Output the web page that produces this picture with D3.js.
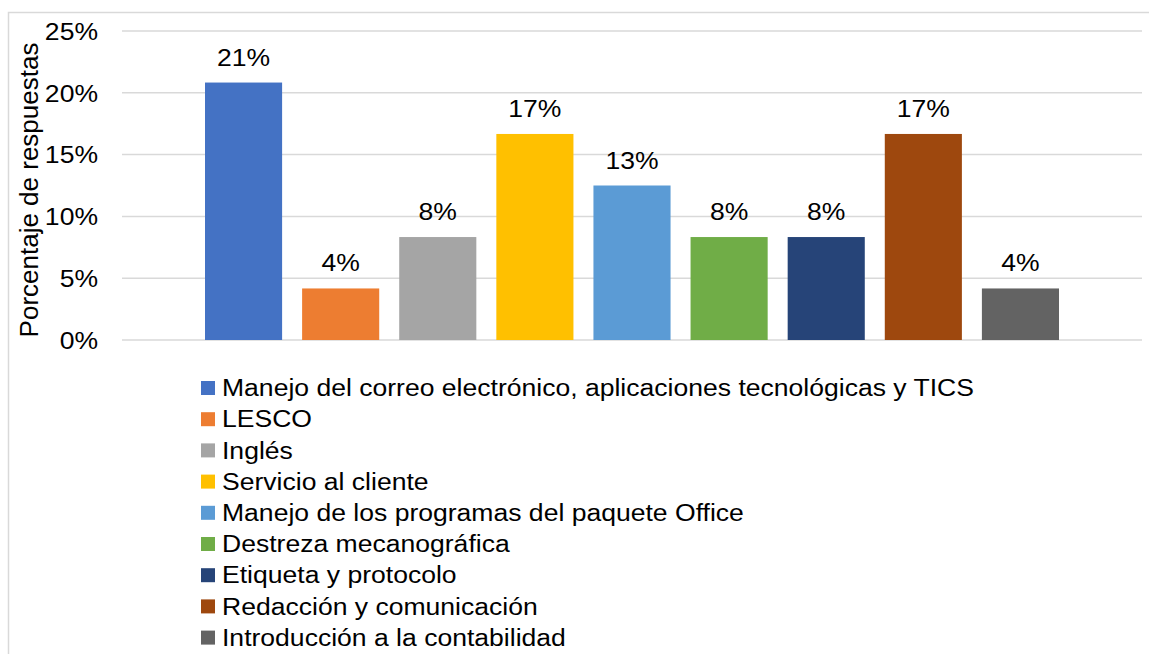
<!DOCTYPE html>
<html><head><meta charset="utf-8">
<script src="https://cdn.jsdelivr.net/npm/d3@7"></script>
<style>html,body{margin:0;padding:0;background:#fff;}svg{display:block;font-family:"Liberation Sans",Arial,sans-serif;}</style>
</head><body>
<svg id="c" width="1149" height="654"></svg>
<script>
const categories = ["Manejo del correo electrónico, aplicaciones tecnológicas y TICS","LESCO","Inglés","Servicio al cliente","Manejo de los programas del paquete Office","Destreza mecanográfica","Etiqueta y protocolo","Redacción y comunicación","Introducción a la contabilidad"];
const values = [0.2083, 0.0417, 0.0833, 0.1667, 0.125, 0.0833, 0.0833, 0.1667, 0.0417];
const labels = ["21%","4%","8%","17%","13%","8%","8%","17%","4%"];
const colors = ["#4472C4","#ED7D31","#A5A5A5","#FFC000","#5B9BD5","#70AD47","#264478","#9E480E","#636363"];
const yTicks = [0, 0.05, 0.10, 0.15, 0.20, 0.25];
const yTitle = "Porcentaje de respuestas";

(function(){
const FS = 23.5, SX = 1.13;
const svg = d3.select("#c");
// chart border
svg.append("path").attr("d","M8.5,654 L8.5,12.5 L1149,12.5").attr("fill","none").attr("stroke","#d9d9d9").attr("stroke-width",1.5);

const plotL = 122, plotR = 1142, plotT = 31, plotB = 340;
const y = d3.scaleLinear().domain([0,0.25]).range([plotB, plotT]);
const x = d3.scaleBand().domain(categories).range([plotL+83, plotR-83]).paddingInner(0.206).paddingOuter(0);

// gridlines
svg.append("g").selectAll("line").data(yTicks).join("line")
  .attr("x1",plotL).attr("x2",plotR).attr("y1",d=>y(d)).attr("y2",d=>y(d))
  .attr("stroke","#d9d9d9").attr("stroke-width",1.5);

// y axis labels
const yAxis = d3.axisLeft(y).tickValues(yTicks).tickFormat(d3.format(".0%")).tickSize(0).tickPadding(0);
const ga = svg.append("g").attr("transform","translate(98,0)").call(yAxis);
ga.select(".domain").remove();
ga.selectAll("text").attr("font-size",FS).attr("fill","#000").attr("font-family","Liberation Sans, Arial, sans-serif")
  .attr("x",0).attr("dy","0.35em").attr("transform",`scale(${SX},1)`);

// axis title
svg.append("text").attr("transform",`translate(38,190) rotate(-90)`)
  .attr("text-anchor","middle")
  .attr("font-size",26).attr("fill","#000").text(yTitle);

// bars
svg.append("g").selectAll("rect").data(categories).join("rect")
  .attr("x",d=>x(d)).attr("width",x.bandwidth())
  .attr("y",(d,i)=>y(values[i])).attr("height",(d,i)=>plotB-y(values[i]))
  .attr("fill",(d,i)=>colors[i]);

// value labels
svg.append("g").selectAll("text").data(categories).join("text")
  .attr("transform",(d,i)=>`translate(${x(d)+x.bandwidth()/2},${y(values[i])-17}) scale(${SX},1)`)
  .attr("text-anchor","middle").attr("font-size",FS).attr("fill","#000")
  .text((d,i)=>labels[i]);

// legend
const lg = svg.append("g").attr("transform","translate(201,0)");
const row = lg.selectAll("g").data(categories).join("g")
  .attr("transform",(d,i)=>`translate(0,${388 + i*31.2})`);
row.append("rect").attr("x",0).attr("y",-7).attr("width",14).attr("height",14).attr("fill",(d,i)=>colors[i]);
row.append("text").attr("transform",`translate(21,0) scale(${SX},1)`).attr("dy","0.35em").attr("font-size",FS).attr("fill","#000").text(d=>d);
})();
</script>
</body></html>
